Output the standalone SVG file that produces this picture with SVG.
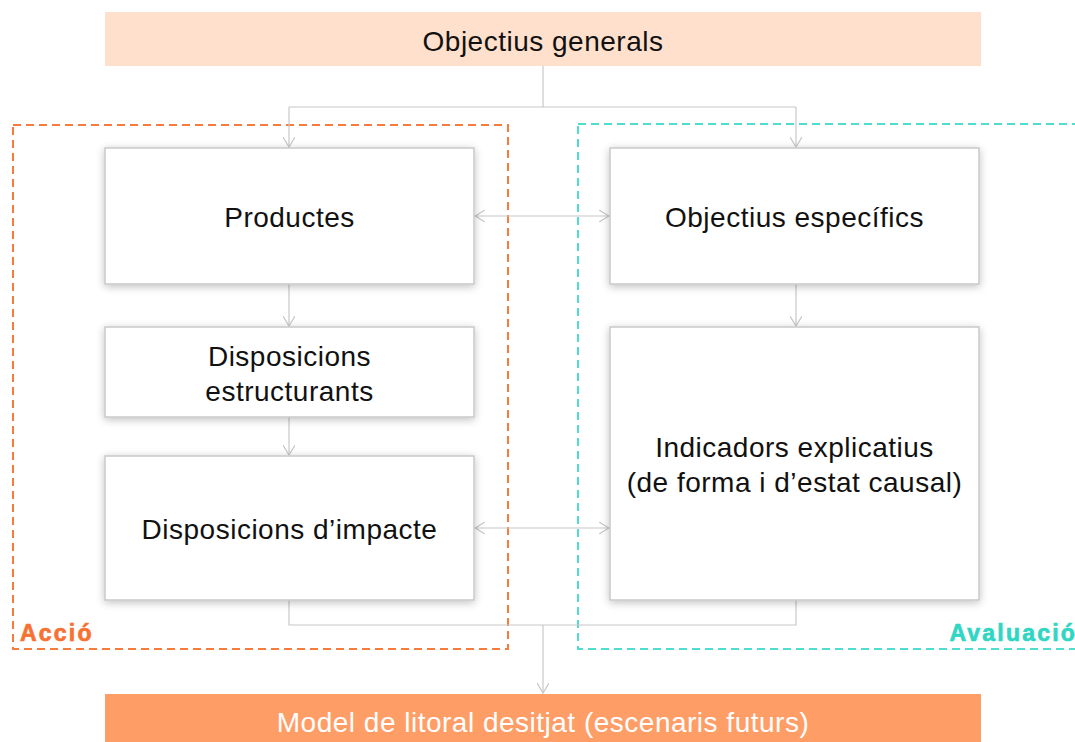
<svg xmlns="http://www.w3.org/2000/svg" width="1075" height="742" viewBox="0 0 1075 742">
  <style>
    .box { fill: #ffffff; stroke: #c9c9c9; stroke-width: 1.5; filter: url(#shadow); }
    .lbl { font-family: "Liberation Sans", Arial, sans-serif; font-size: 28px; letter-spacing: 0.5px; fill: #111111; text-anchor: middle; }
    .conn { fill: none; stroke: #c8c8c8; stroke-width: 1.2; }
    .grp { font-family: "Liberation Sans", Arial, sans-serif; font-size: 23px; font-weight: bold; letter-spacing: 2.2px; stroke-width: 0.7px; }
  </style>
  <defs>
    <filter id="shadow" x="-10%" y="-10%" width="120%" height="130%">
      <feGaussianBlur in="SourceAlpha" stdDeviation="4"/>
      <feOffset dx="0" dy="2" result="b"/>
      <feComponentTransfer><feFuncA type="linear" slope="0.25"/></feComponentTransfer>
      <feMerge><feMergeNode/><feMergeNode in="SourceGraphic"/></feMerge>
    </filter>
    <marker id="arr" markerWidth="12" markerHeight="12" refX="10" refY="6" orient="auto-start-reverse" markerUnits="userSpaceOnUse">
      <path d="M0,0 L10,6 L0,12" fill="none" stroke="#c8c8c8" stroke-width="1.2"/>
    </marker>
  </defs>

  <g id="group-accio">
    <rect x="13" y="125" width="495" height="524" fill="none" stroke="#f77b3d" stroke-width="2" stroke-dasharray="8,5"/>
    <text class="grp" x="20" y="641" fill="#f77133" stroke="#f77133">Acció</text>
  </g>
  <g id="group-avaluacio">
    <rect x="578" y="124" width="520" height="525" fill="none" stroke="#4fddcd" stroke-width="2" stroke-dasharray="8,5"/>
    <text class="grp" x="1077" y="641" fill="#2fd6c4" stroke="#2fd6c4" text-anchor="end">Avaluació</text>
  </g>

  <g id="connectors">
    <path class="conn" d="M543,66 V107 M289,107 H796"/>
    <path class="conn" d="M289,107 V147" marker-end="url(#arr)"/>
    <path class="conn" d="M796,107 V147" marker-end="url(#arr)"/>
    <path class="conn" d="M289,284 V326" marker-end="url(#arr)"/>
    <path class="conn" d="M289,417 V455" marker-end="url(#arr)"/>
    <path class="conn" d="M796,284 V326" marker-end="url(#arr)"/>
    <path class="conn" d="M475,216 H609" marker-start="url(#arr)" marker-end="url(#arr)"/>
    <path class="conn" d="M475,528 H609" marker-start="url(#arr)" marker-end="url(#arr)"/>
    <path class="conn" d="M289,600 V625 H796 V600"/>
    <path class="conn" d="M543,625 V693" marker-end="url(#arr)"/>
  </g>

  <g id="objectius-generals">
    <rect x="105" y="12" width="876" height="54" fill="#fee0cc"/>
    <text class="lbl" x="543" y="51">Objectius generals</text>
  </g>
  <g id="productes">
    <rect class="box" x="105" y="148" width="369" height="136"/>
    <text class="lbl" x="289.5" y="227">Productes</text>
  </g>
  <g id="objectius-especifics">
    <rect class="box" x="610" y="148" width="369" height="136"/>
    <text class="lbl" x="794.5" y="227">Objectius específics</text>
  </g>
  <g id="disposicions-estructurants">
    <rect class="box" x="105" y="327" width="369" height="90"/>
    <text class="lbl" x="289.5" y="366">Disposicions</text>
    <text class="lbl" x="289.5" y="401">estructurants</text>
  </g>
  <g id="disposicions-impacte">
    <rect class="box" x="105" y="456" width="369" height="144"/>
    <text class="lbl" x="289.5" y="539">Disposicions d’impacte</text>
  </g>
  <g id="indicadors">
    <rect class="box" x="610" y="327" width="369" height="273"/>
    <text class="lbl" x="794.5" y="457">Indicadors explicatius</text>
    <text class="lbl" x="794.5" y="492">(de forma i d’estat causal)</text>
  </g>
  <g id="model-litoral">
    <rect x="105" y="694" width="876" height="48" fill="#ff9d67"/>
    <text class="lbl" x="543" y="732" style="fill:#ffffff">Model de litoral desitjat (escenaris futurs)</text>
  </g>
</svg>
